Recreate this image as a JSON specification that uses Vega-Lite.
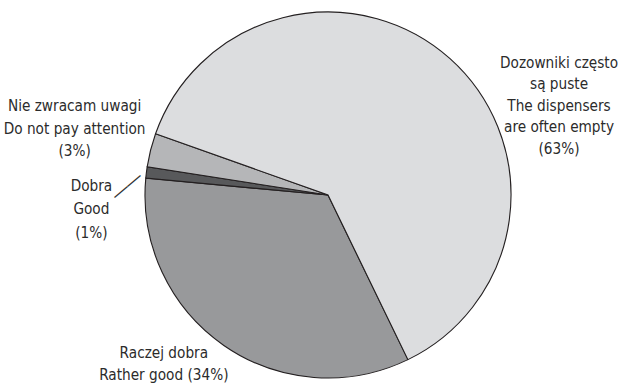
{
  "$schema": "https://vega.github.io/schema/vega-lite/v6.json",
  "width": 580,
  "height": 374,
  "autosize": {"type": "none"},
  "padding": {"left": 38, "top": 8, "right": 0, "bottom": 1},
  "background": "white",
  "view": {"stroke": null},
  "data": {
    "values": [
      {"answer": "Raczej dobra", "share": 34, "rank": 1, "label": "Raczej dobra\nRather good (34%)"},
      {"answer": "Dobra", "share": 1, "rank": 2, "label": "Dobra\nGood\n(1%)"},
      {"answer": "Nie zwracam uwagi", "share": 3, "rank": 3, "label": "Nie zwracam uwagi\nDo not pay attention\n(3%)"},
      {"answer": "Dozowniki często są puste", "share": 63, "rank": 4, "label": "Dozowniki często\nsą puste\nThe dispensers\nare often empty\n(63%)"}
    ]
  },
  "encoding": {
    "theta": {"field": "share", "type": "quantitative", "stack": true, "scale": {"range": [2.6896, 8.9728]}},
    "order": {"field": "rank", "type": "quantitative"}
  },
  "layer": [
    {
      "mark": {"type": "arc", "outerRadius": 183, "stroke": "#231f20", "strokeWidth": 1.1},
      "encoding": {
        "color": {
          "field": "answer",
          "type": "nominal",
          "scale": {
            "domain": ["Raczej dobra", "Dobra", "Nie zwracam uwagi", "Dozowniki często są puste"],
            "range": ["#98999b", "#58595b", "#b5b6b8", "#dcdddf"]
          },
          "legend": null
        }
      }
    },
    {
      "mark": {"type": "text", "radius": 183, "dx": 109, "dy": -3, "align": "center", "baseline": "top", "lineBreak": "\n", "font": "DejaVu Sans Condensed, sans-serif", "fontSize": 15.2, "lineHeight": 21.5, "fill": "#2b2b2b"},
      "encoding": {"text": {"condition": {"test": "datum.answer === 'Dozowniki często są puste'", "field": "label"}, "value": ""}}
    },
    {
      "mark": {"type": "text", "radius": 183, "dx": -76, "dy": -51, "align": "center", "baseline": "top", "lineBreak": "\n", "font": "DejaVu Sans Condensed, sans-serif", "fontSize": 15.2, "lineHeight": 22.5, "fill": "#2b2b2b"},
      "encoding": {"text": {"condition": {"test": "datum.answer === 'Nie zwracam uwagi'", "field": "label"}, "value": ""}}
    },
    {
      "mark": {"type": "text", "radius": 183, "dx": -55, "dy": 6.5, "align": "center", "baseline": "top", "lineBreak": "\n", "font": "DejaVu Sans Condensed, sans-serif", "fontSize": 15.2, "lineHeight": 23.5, "fill": "#2b2b2b"},
      "encoding": {"text": {"condition": {"test": "datum.answer === 'Dobra'", "field": "label"}, "value": ""}}
    },
    {
      "mark": {"type": "text", "radius": 183, "dx": -23.5, "dy": -2.1, "angle": -40, "align": "center", "baseline": "middle", "font": "Liberation Sans, sans-serif", "fontSize": 17, "fill": "#333333"},
      "encoding": {"text": {"condition": {"test": "datum.answer === 'Dobra'", "value": "——"}, "value": ""}}
    },
    {
      "mark": {"type": "text", "radius": 183, "dx": -60, "dy": 1, "align": "center", "baseline": "top", "lineBreak": "\n", "font": "DejaVu Sans Condensed, sans-serif", "fontSize": 15.2, "lineHeight": 21.5, "fill": "#2b2b2b"},
      "encoding": {"text": {"condition": {"test": "datum.answer === 'Raczej dobra'", "field": "label"}, "value": ""}}
    }
  ]
}
